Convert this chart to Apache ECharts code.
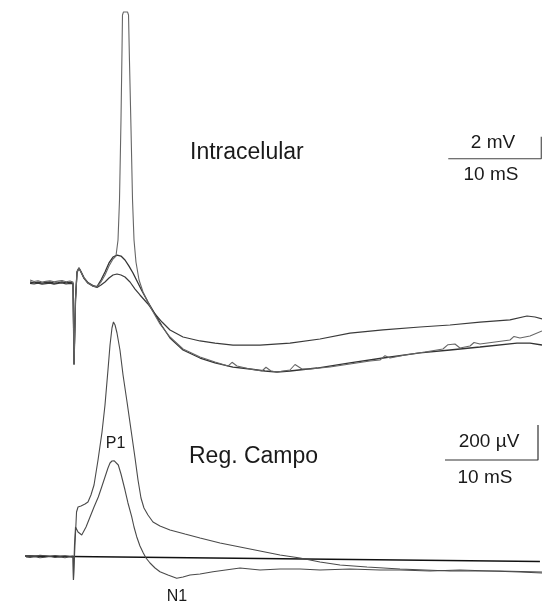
<!DOCTYPE html>
<html>
<head>
<meta charset="utf-8">
<script src="https://cdn.jsdelivr.net/npm/echarts@6/dist/echarts.min.js"></script>
<style>
html,body{margin:0;padding:0;background:#fff;}
#chart{width:542px;height:606px;}
</style>
</head>
<body>
<div id="chart"></div>
<script>
// ---- Intracellular recording (time in ms, potential in mV relative to baseline) ----
const icPreTime  = [-4.77,-4.34,-3.91,-3.48,-3.05,-2.63,-2.19,-1.76,-1.33,-0.90,-0.47,-0.15,-0.04,0.12,0.28,0.49,0.71,1.03,1.46,2.0,2.43];
const icPreMvA   = [0.18,0.05,0.12,0.0,0.06,0.12,0.02,0.08,0.14,0.03,0.09,0.0,-7.55,-1.64,0.91,1.27,0.91,0.36,-0.09,-0.36,-0.45];
const icPreMvB   = [0.0,-0.08,-0.02,-0.1,-0.04,0.0,-0.1,-0.05,0.02,-0.08,-0.03,-0.1,-7.5,-1.6,0.95,1.3,0.95,0.4,-0.05,-0.33,-0.42];
const icPreMvC   = [-0.12,-0.18,-0.1,-0.2,-0.14,-0.1,-0.2,-0.12,-0.08,-0.18,-0.12,-0.15,-7.45,-1.55,0.85,1.22,0.88,0.32,-0.12,-0.38,-0.5];

const spikeTime = [2.86,3.29,3.72,4.15,4.47,4.69,4.85,5.01,5.12,5.17,5.28,5.71,5.82,5.92,6.09,6.25,6.41,6.62,6.95,7.38,7.91,8.34,9.20,10.28,11.68,13.51,15.12,
  16.52,16.95,17.48,18.88,20.17,20.60,21.14,21.78,23.18,23.72,24.47,25.33,27.48,29.63,31.78,32.86,33.40,33.94,35.55,37.70,39.63,40.17,40.92,41.46,42.54,42.97,43.61,45.23,46.84,47.27,47.91,48.99,50.28];
const spikeMv   = [0,0.64,1.45,2.09,2.36,3.82,7.45,14.73,21.09,24.27,24.55,24.55,24.27,20.18,13.82,7.45,3.82,1.82,0.18,-0.91,-1.82,-2.55,-3.82,-5.0,-6.09,-6.82,-7.27,
  -7.64,-7.3,-7.64,-7.91,-8.09,-7.75,-8.09,-8.18,-8.0,-7.5,-7.91,-7.91,-7.73,-7.45,-7.18,-7.09,-6.7,-6.91,-6.64,-6.36,-6.09,-5.7,-5.64,-6.0,-5.82,-5.5,-5.64,-5.45,-5.27,-4.95,-5.09,-4.91,-4.45];

const bigEpspTime = [2.86,3.29,3.72,4.15,4.58,5.01,5.44,5.87,6.30,6.73,7.27,7.91,8.67,9.42,10.28,11.68,13.51,15.12,17.05,18.88,20.49,21.78,23.18,26.09,29.63,33.18,37.16,40.39,43.61,47.59,48.99,50.28];
const bigEpspMv   = [0.18,0.91,1.73,2.27,2.45,2.36,2.0,1.45,0.82,0.09,-0.82,-1.82,-2.91,-4.0,-5.09,-6.18,-6.91,-7.36,-7.73,-7.91,-8.09,-8.18,-8.09,-7.82,-7.36,-6.91,-6.45,-6.18,-5.91,-5.55,-5.55,-5.73];

const smallEpspTime = [2.86,3.29,3.72,4.15,4.58,5.01,5.44,5.98,6.52,7.05,7.91,8.67,9.42,10.28,11.68,13.51,15.12,17.05,19.96,23.18,26.41,29.63,33.18,37.16,40.39,43.61,46.84,48.67,49.53,50.28];
const smallEpspMv   = [-0.27,0,0.36,0.64,0.73,0.64,0.45,0,-0.64,-1.18,-2.0,-2.91,-3.64,-4.36,-5.0,-5.36,-5.55,-5.73,-5.73,-5.55,-5.18,-4.64,-4.36,-4.09,-3.91,-3.64,-3.45,-3.09,-3.18,-3.36];

// ---- Field recording (time in ms, potential in µV) ----
const fieldBigTime = [-5.20,-4.77,-4.24,-3.70,-3.16,-2.62,-2.09,-1.55,-1.01,-0.47,-0.15,-0.10,0.06,0.23,0.39,0.71,1.14,1.46,1.78,2.11,2.54,2.97,3.29,3.61,3.83,4.04,4.20,4.37,4.58,4.90,5.23,5.66,6.09,6.52,6.84,7.16,7.48,7.91,8.45,9.20,10.28,11.89,13.51,15.66,17.81,19.96,22.11,24.26,26.41,28.56,31.46,35.01,40.39,45.76,50.28];
const fieldBigUv   = [0,3,-2,4,1,-3,3,-2,1,-3,0,-137.1,62.9,251.4,280,285.7,297.1,308.6,348.6,405.7,548.6,708.6,862.9,1062.9,1205.7,1302.9,1337.1,1320,1274.3,1177.1,1034.3,880,720,560,434.3,331.4,274.3,234.3,194.3,171.4,148.6,125.7,102.9,74.3,51.4,28.6,5.7,-11.4,-34.3,-51.4,-62.9,-74.3,-85.7,-85.7,-91.4];

const fieldSmallTime = [-5.20,-4.77,-4.24,-3.70,-3.16,-2.62,-2.09,-1.55,-1.01,-0.47,-0.15,-0.10,0.01,0.12,0.39,0.79,1.25,1.68,2.11,2.57,2.97,3.29,3.61,3.83,4.04,4.26,4.47,4.72,5.01,5.44,5.76,6.16,6.41,6.70,7.05,7.41,7.70,8.13,8.67,9.20,10.06,11.0,11.68,12.43,13.51,14.90,17.81,19.96,22.11,24.26,26.41,29.63,32.86,35.01,38.24,41.46,44.69,47.91,50.28];
const fieldSmallUv   = [-6,-9,-4,-10,-7,-3,-9,-6,-10,-4,-8,-137.1,62.9,165.7,137.1,120,165.7,222.9,280,337.1,400,451.4,502.9,531.4,542.9,544.6,537.1,520,468.6,377.1,302.9,224.6,165.7,110.3,57.1,17.1,-11.4,-40,-68.6,-89.7,-108.6,-127.4,-120,-108.6,-102.9,-89.7,-68.6,-80,-74.3,-74.3,-80,-74.3,-80,-80,-85.7,-80,-85.7,-91.4,-97.1];

const fieldZeroTime = [-5.31, 50.06];
const fieldZeroUv   = [0, -31.4];

// ---- Scale bars ----
const icBarTime = [40.2, 50.2, 50.2];
const icBarMv   = [11.2, 11.2, 13.2];
const fieldBarTime = [39.85, 49.85, 49.85];
const fieldBarUv   = [548.6, 548.6, 748.6];

// ---- Labels ----
const labels = {
  intra: 'Intracelular', field: 'Reg. Campo', p1: 'P1', n1: 'N1',
  icV: '2 mV', icT: '10 mS', fV: '200 \u00b5V', fT: '10 mS'
};

function zip(t, v) { return t.map((x, i) => [x, v[i]]); }

function trace(name, data, yIdx, color, width) {
  return {
    name, type: 'line', data, xAxisIndex: 0, yAxisIndex: yIdx,
    showSymbol: false, symbol: 'none', smooth: false, silent: true,
    lineStyle: { color: color || '#3a3a3a', width: width || 1.2 },
    clip: false
  };
}

const chart = echarts.init(document.getElementById('chart'), null, { renderer: 'canvas' });
const font = '"Liberation Sans", Arial, sans-serif';
function txt(text, x, y, size, align) {
  return { type: 'text', x, y, silent: true,
    style: { text, font: size + 'px ' + font, fill: '#1a1a1a', align: align || 'center', verticalAlign: 'middle' } };
}

chart.setOption({
  backgroundColor: '#ffffff',
  animation: false,
  grid: { left: 0, right: 0, top: 0, bottom: 0, containLabel: false },
  xAxis: { type: 'value', min: -8, max: 50.28, show: false },
  yAxis: [
    { type: 'value', min: -29.4545, max: 25.6364, show: false },
    { type: 'value', min: -285.71, max: 3177.14, show: false }
  ],
  series: [
    trace('small EPSP', zip(icPreTime.concat(smallEpspTime), icPreMvC.concat(smallEpspMv)), 0, '#3a3a3a', 1.2),
    trace('big EPSP', zip(icPreTime.concat(bigEpspTime), icPreMvB.concat(bigEpspMv)), 0, '#333', 1.3),
    trace('spike', zip(icPreTime.concat(spikeTime), icPreMvA.concat(spikeMv)), 0, '#666', 1.1),
    trace('field zero', zip(fieldZeroTime, fieldZeroUv), 1, '#111', 1.3),
    trace('field P1 large', zip(fieldBigTime, fieldBigUv), 1, '#4a4a4a', 1.1),
    trace('field P1 small', zip(fieldSmallTime, fieldSmallUv), 1, '#4a4a4a', 1.1),
    trace('ic scale bar', zip(icBarTime, icBarMv), 0, '#444', 1.1),
    trace('field scale bar', zip(fieldBarTime, fieldBarUv), 1, '#333', 1.2)
  ],
  graphic: [
    txt(labels.intra, 190, 153, 23, 'left'),
    txt(labels.field, 189, 457, 23, 'left'),
    txt(labels.p1, 115.5, 444, 16),
    txt(labels.n1, 177, 597, 16),
    txt(labels.icV, 493, 143, 19),
    txt(labels.icT, 491, 175, 19),
    txt(labels.fV, 489, 442, 19),
    txt(labels.fT, 485, 478, 19)
  ]
});
</script>
</body>
</html>
